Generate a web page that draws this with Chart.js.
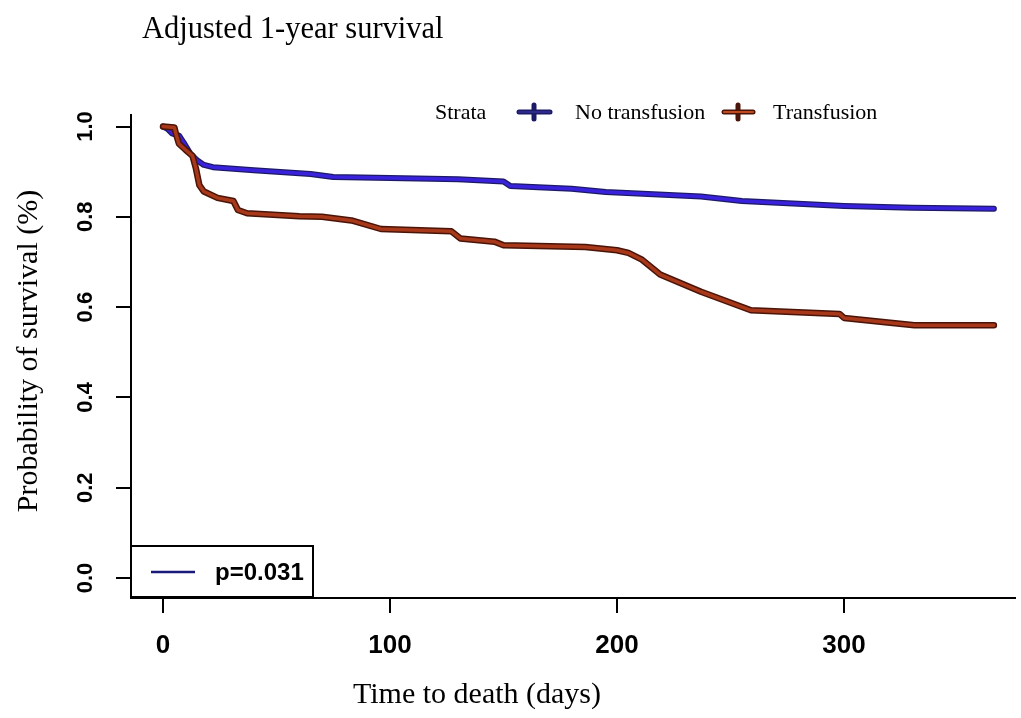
<!DOCTYPE html>
<html>
<head>
<meta charset="utf-8">
<script src="https://cdn.jsdelivr.net/npm/chart.js@4/dist/chart.umd.min.js"></script>
<style>
  html, body { margin: 0; padding: 0; background: #ffffff; }
  #wrap { width: 1021px; height: 718px; position: relative; }
  canvas { display: block; }
</style>
</head>
<body>
<div id="wrap"><canvas id="c" width="1021" height="718"></canvas></div>
<script>
// ---- Data ----
const titleText = "Adjusted 1-year survival";
const xTitle = "Time to death (days)";
const yTitle = "Probability of survival (%)";
const legendTitle = "Strata";
const seriesNames = ["No transfusion", "Transfusion"];
const pValueText = "p=0.031";

const xTickValues = [0, 100, 200, 300];
const yTickValues = [0.0, 0.2, 0.4, 0.6, 0.8, 1.0];
const yTickLabels = ["0.0", "0.2", "0.4", "0.6", "0.8", "1.0"];

const noTransDays = [0, 2, 4, 7, 9, 12, 15, 18, 22, 40, 65, 75, 100, 130, 150, 153, 180, 195, 237, 255, 300, 330, 366];
const noTransSurv = [1.0, 0.995, 0.985, 0.98, 0.965, 0.94, 0.925, 0.915, 0.91, 0.903, 0.895, 0.888, 0.886, 0.883, 0.878, 0.868, 0.862, 0.855, 0.845, 0.835, 0.824, 0.82, 0.818];

const transDays = [0, 5, 5.7, 7, 10, 13, 14.5, 16, 18, 24, 31, 33, 37, 60, 70, 83, 96, 127, 131, 146, 150, 186, 200, 205, 211, 219, 237, 259, 298, 300, 331, 366];
const transSurv = [1.0, 0.998, 0.984, 0.962, 0.948, 0.935, 0.907, 0.87, 0.856, 0.842, 0.835, 0.815, 0.808, 0.801, 0.8, 0.792, 0.773, 0.768, 0.752, 0.745, 0.737, 0.733, 0.726, 0.72, 0.705, 0.672, 0.634, 0.593, 0.585, 0.576, 0.56, 0.56];

// ---- Styles ----
const blueCore = '#3a22dc', blueEdge = '#1c1a66';
const redCore = '#a8381a', redEdge = '#4a1408';
const serif = '"Liberation Serif", "Times New Roman", serif';
const sans = '"Liberation Sans", Arial, Helvetica, sans-serif';

function pts(xs, ys) { return xs.map((x, i) => ({ x: x, y: ys[i] })); }

const lineBase = { pointRadius: 0, tension: 0, fill: false, borderJoinStyle: 'round', borderCapStyle: 'round' };

const overlay = {
  id: 'overlay',
  afterDraw(chart) {
    const ctx = chart.ctx;
    const ys = chart.scales.y;
    ctx.save();
    ctx.fillStyle = '#000';
    // title
    ctx.font = '30.5px ' + serif;
    ctx.textAlign = 'left'; ctx.textBaseline = 'alphabetic';
    ctx.fillText(titleText, 142, 38);
    // x title
    ctx.font = '30px ' + serif;
    ctx.textAlign = 'center';
    ctx.fillText(xTitle, 477, 703);
    // y title
    ctx.save();
    ctx.translate(37, 351);
    ctx.rotate(-Math.PI / 2);
    ctx.textAlign = 'center'; ctx.textBaseline = 'alphabetic';
    ctx.fillText(yTitle, 0, 0);
    ctx.restore();
    // y tick labels (rotated, R style)
    ctx.font = 'bold 22px ' + sans;
    yTickValues.forEach((v, i) => {
      const py = ys.getPixelForValue(v);
      ctx.save();
      ctx.translate(86, py);
      ctx.rotate(-Math.PI / 2);
      ctx.textAlign = 'center'; ctx.textBaseline = 'middle';
      ctx.fillText(yTickLabels[i], 0, 0);
      ctx.restore();
    });
    // legend
    ctx.font = '22px ' + serif;
    ctx.textAlign = 'left'; ctx.textBaseline = 'alphabetic';
    ctx.fillText(legendTitle, 435, 119);
    function sym(x0, x1, cx, edge, core) {
      ctx.lineCap = 'round';
      ctx.strokeStyle = edge; ctx.lineWidth = 5;
      ctx.beginPath(); ctx.moveTo(x0, 112); ctx.lineTo(x1, 112); ctx.stroke();
      ctx.beginPath(); ctx.moveTo(cx, 105); ctx.lineTo(cx, 119); ctx.stroke();
      ctx.strokeStyle = core; ctx.lineWidth = 2;
      ctx.beginPath(); ctx.moveTo(x0, 112); ctx.lineTo(x1, 112); ctx.stroke();
    }
    sym(519, 550, 534, blueEdge, '#2e2a8a');
    ctx.fillStyle = '#000';
    ctx.fillText(seriesNames[0], 575, 119);
    sym(724, 753, 738, redEdge, '#c04a20');
    ctx.fillStyle = '#000';
    ctx.fillText(seriesNames[1], 773, 119);
    // p-value box
    ctx.fillStyle = '#fff';
    ctx.fillRect(131, 546, 182, 51);
    ctx.strokeStyle = '#000'; ctx.lineWidth = 2;
    ctx.strokeRect(131, 546, 182, 51);
    ctx.strokeStyle = '#1a1a7a'; ctx.lineWidth = 2.5; ctx.lineCap = 'butt';
    ctx.beginPath(); ctx.moveTo(151, 572); ctx.lineTo(195, 572); ctx.stroke();
    ctx.fillStyle = '#000';
    ctx.font = 'bold 24px ' + sans;
    ctx.textAlign = 'left'; ctx.textBaseline = 'alphabetic';
    ctx.fillText(pValueText, 215, 580);
    ctx.restore();
  }
};

new Chart(document.getElementById('c'), {
  type: 'line',
  data: {
    datasets: [
      Object.assign({ label: seriesNames[1], data: pts(transDays, transSurv), borderColor: redCore, borderWidth: 3.5, order: 0 }, lineBase),
      Object.assign({ label: seriesNames[1] + ' edge', data: pts(transDays, transSurv), borderColor: redEdge, borderWidth: 6.5, order: 1 }, lineBase),
      Object.assign({ label: seriesNames[0], data: pts(noTransDays, noTransSurv), borderColor: blueCore, borderWidth: 3.5, order: 2 }, lineBase),
      Object.assign({ label: seriesNames[0] + ' edge', data: pts(noTransDays, noTransSurv), borderColor: blueEdge, borderWidth: 6, order: 3 }, lineBase)
    ]
  },
  options: {
    responsive: false,
    animation: false,
    devicePixelRatio: 1,
    layout: { padding: { left: 0, right: 6, top: 115, bottom: 0 } },
    plugins: { legend: { display: false }, title: { display: false }, tooltip: { enabled: false } },
    scales: {
      x: {
        type: 'linear',
        min: -14.1, max: 375.3,
        afterFit(s) { s.height = 120; },
        afterBuildTicks(s) { s.ticks = xTickValues.map(v => ({ value: v })); },
        grid: { drawOnChartArea: false, drawTicks: true, tickLength: 15, color: '#000', lineWidth: 2 },
        border: { display: true, color: '#000', width: 2 },
        ticks: { color: '#000', font: { family: sans, size: 26, weight: 'bold' }, padding: 17, maxRotation: 0, autoSkip: false,
                 callback: (v) => String(v) }
      },
      y: {
        type: 'linear',
        min: -0.0443, max: 1.0255,
        afterFit(s) { s.width = 131; },
        afterBuildTicks(s) { s.ticks = yTickValues.map(v => ({ value: v })); },
        grid: { drawOnChartArea: false, drawTicks: true, tickLength: 15, color: '#000', lineWidth: 2 },
        border: { display: true, color: '#000', width: 2 },
        ticks: { display: false }
      }
    }
  },
  plugins: [overlay]
});
</script>
</body>
</html>
